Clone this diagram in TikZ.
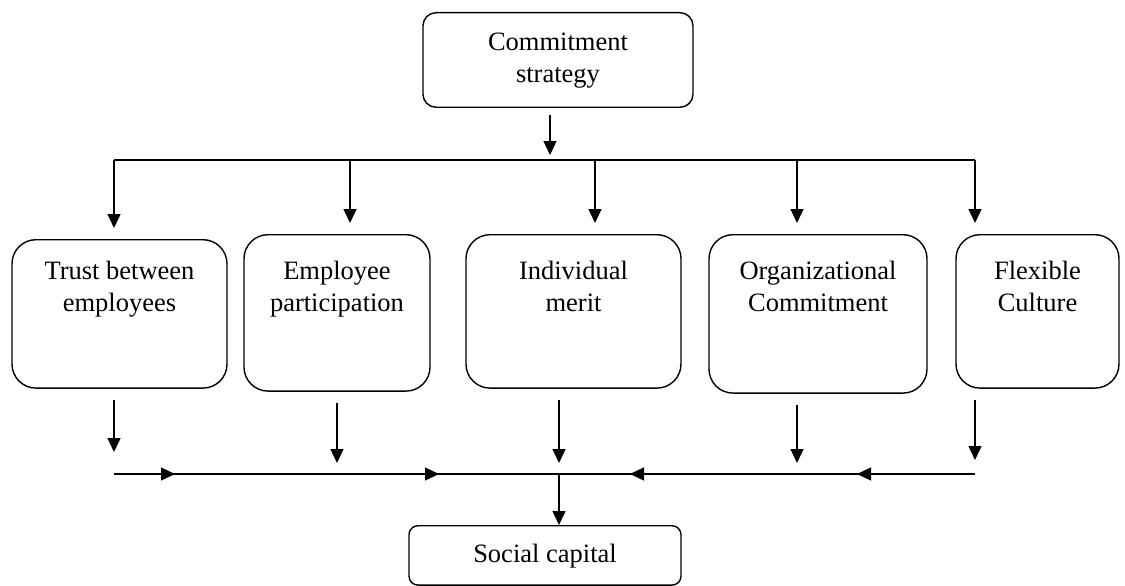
\documentclass[tikz,border=0pt]{standalone}
\usepackage{fontspec}
\setmainfont{Liberation Serif}
\usetikzlibrary{arrows.meta,positioning,decorations.markings}
\begin{document}
\begin{tikzpicture}[x=1pt,y=-1pt,>={Triangle[length=14pt,width=13pt]},line width=1.4pt]
%               [strategy]
%                   |
%     +------+------+------+------+
%     v      v      v      v      v
%  [trust] [emp] [merit] [org] [flex]
%     |      |      |      |      |
%     +--->--+--->--+--<---+--<---+
%                   v
%               [capital]
    \tikzstyle{every node}=[font=\fontsize{26.5}{32}\selectfont, inner xsep=0pt]
    \tikzstyle{factor}=[draw, rounded corners=24pt, align=center, anchor=north, inner ysep=26pt]
    \useasboundingbox (0,0) rectangle (1125,586);

    \node[factor, rounded corners=13pt, minimum width=270pt, inner ysep=20pt, text depth=5pt] (strategy) at (558,12) {Commitment\\strategy};

    \node[factor, minimum width=215pt, inner ysep=21pt, text depth=56pt] (trust) at (119.5,239) {Trust between\\employees};
    \node[factor, minimum width=186pt, text depth=54pt] (emp) at (337,234) {Employee\\participation};
    \node[factor, minimum width=215pt, text depth=51pt] (merit) at (573.5,234) {Individual\\merit};
    \node[factor, minimum width=218pt, text depth=56pt] (org) at (818,234) {Organizational\\Commitment};
    \node[factor, minimum width=163pt, text depth=51pt] (flex) at (1037.5,234) {Flexible\\Culture};

    \node[factor, rounded corners=9pt, minimum width=272pt, inner ysep=18pt, text depth=5pt] (capital) at (545,525) {Social capital};

    % split
    \coordinate (s) at (550,115);
    \coordinate (busL) at (114,160);
    \coordinate (busR) at (975,160);
    \draw[->, shorten >=5pt] (s) -- (s |- busL);
    \draw (busL) -- (busR);
    \foreach \n/\x in {trust/114, emp/350, merit/595, org/797, flex/975} {
        \coordinate (d\n) at (\x,160);
        \draw[->, shorten >=11pt] (d\n) -- (d\n |- \n.north);
    }

    % join
    \foreach \n/\x/\e in {trust/114/452, emp/337/463, merit/559/463, org/797/463, flex/975/460} {
        \coordinate (u\n) at (\x,\e);
        \draw[->] (u\n |- \n.south) ++(0,11) -- (u\n);
    }
    \coordinate (jL) at (114,474);
    \coordinate (jR) at (975,474);
    \coordinate (jC) at (559,474);
    \draw[postaction={decorate}, decoration={markings,
        mark=at position 61pt with {\arrow{>}},
        mark=at position 325pt with {\arrow{>}},
        mark=at position 530pt with {\arrow{<}},
        mark=at position 757pt with {\arrow{<}}}] (jL) -- (jR);
    \draw[->] (jC) -- (jC |- capital.north);
\end{tikzpicture}
\end{document}
